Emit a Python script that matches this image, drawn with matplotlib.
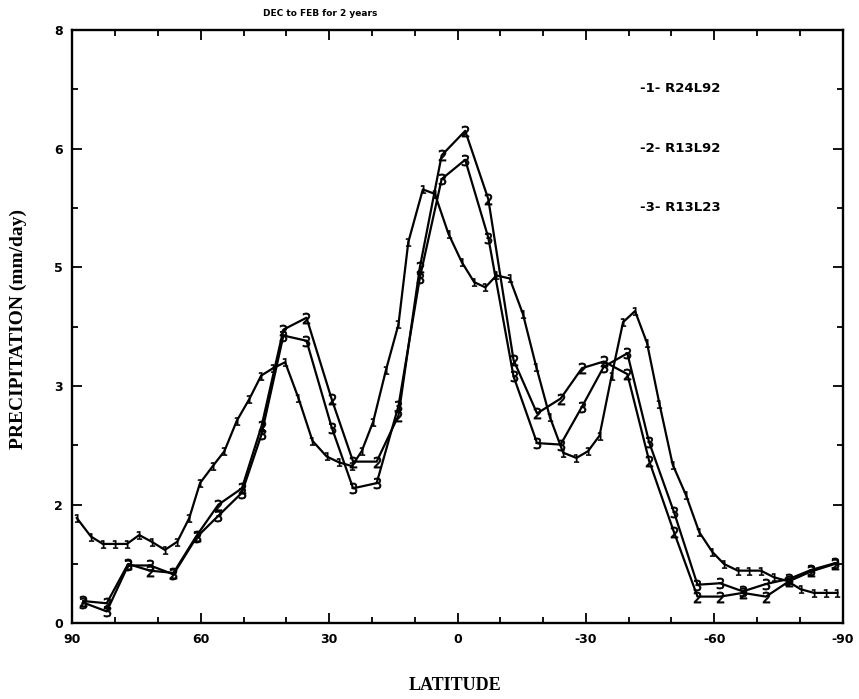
import matplotlib
matplotlib.use("Agg")
import matplotlib.pyplot as plt
from matplotlib.ticker import FixedLocator, MultipleLocator, FuncFormatter

# zonal mean precipitation (mm/day), DEC to FEB, 2-year mean
lat_r24 = [89.0, 85.7, 82.9, 80.1, 77.3, 74.4, 71.5, 68.4, 65.5, 62.7,
           60.2, 57.2, 54.5, 51.6, 48.7, 45.9, 43.1, 40.3, 37.2, 33.9,
           30.6, 27.7, 24.7, 22.4, 19.7, 16.7, 13.8, 11.5, 8.1, 5.3,
           2.1, -1.0, -3.9, -6.5, -9.1, -12.2, -15.3, -18.4, -21.6, -24.7,
           -27.8, -30.5, -33.2, -36.0, -38.7, -41.5, -44.3, -47.2, -50.3, -53.4,
           -56.5, -59.6, -62.3, -65.5, -68.2, -70.9, -74.0, -77.1, -80.2, -83.3,
           -86.1, -88.8]
precip_r24l92 = [1.42, 1.17, 1.07, 1.07, 1.07, 1.19, 1.10, 0.99, 1.10, 1.42,
                 1.89, 2.12, 2.32, 2.73, 3.02, 3.34, 3.44, 3.52, 3.04, 2.46,
                 2.25, 2.17, 2.12, 2.32, 2.72, 3.42, 4.03, 5.14, 5.85, 5.79,
                 5.25, 4.87, 4.60, 4.53, 4.69, 4.65, 4.17, 3.46, 2.78, 2.30,
                 2.23, 2.32, 2.53, 3.33, 4.06, 4.21, 3.78, 2.96, 2.14, 1.73,
                 1.23, 0.96, 0.80, 0.71, 0.71, 0.71, 0.62, 0.57, 0.46, 0.41,
                 0.41, 0.41]

lat_r13 = [87.5, 82.0, 77.0, 71.9, 66.4, 61.0, 55.9, 50.4, 45.8, 40.7,
           35.3, 29.4, 24.4, 18.9, 13.8, 8.8, 3.7, -1.8, -7.2, -13.1,
           -18.6, -24.1, -29.1, -34.2, -39.7, -44.8, -50.6, -56.1, -61.4, -66.7,
           -72.1, -77.6, -82.7, -88.2]
precip_r13l92 = [0.30, 0.27, 0.80, 0.71, 0.68, 1.18, 1.60, 1.82, 2.66, 3.96,
                 4.12, 3.02, 2.18, 2.18, 2.80, 4.80, 6.31, 6.64, 5.72, 3.55,
                 2.83, 3.03, 3.44, 3.53, 3.36, 2.19, 1.23, 0.36, 0.36, 0.41,
                 0.36, 0.57, 0.70, 0.80]
precip_r13l23 = [0.28, 0.16, 0.78, 0.78, 0.66, 1.16, 1.45, 1.76, 2.55, 3.88,
                 3.81, 2.64, 1.82, 1.89, 2.93, 4.66, 5.99, 6.25, 5.20, 3.33,
                 2.43, 2.41, 2.92, 3.46, 3.64, 2.44, 1.50, 0.52, 0.54, 0.43,
                 0.53, 0.60, 0.72, 0.81]

run_labels = ["-1- R24L92", "-2- R13L92", "-3- R13L23"]
x_ticks = [90, 60, 30, 0, -30, -60, -90]
y_ticks = [0.0, 1.6, 3.2, 4.8, 6.4, 8.0]

fig = plt.figure(figsize=(8.59, 6.99), dpi=100)
ax = fig.add_axes([0.0844, 0.1083, 0.8964, 0.8488])

ax.plot(lat_r24, precip_r24l92, color="black", lw=1.6,
        marker="$1$", ms=6, mew=0.4)
ax.plot(lat_r13, precip_r13l92, color="black", lw=1.6,
        marker="$2$", ms=8, mew=0.5)
ax.plot(lat_r13, precip_r13l23, color="black", lw=1.6,
        marker="$3$", ms=8, mew=0.5)

ax.set_xlim(90, -90)
ax.set_ylim(0, 8)
ax.xaxis.set_major_locator(FixedLocator(x_ticks))
ax.xaxis.set_minor_locator(MultipleLocator(10))
ax.yaxis.set_major_locator(FixedLocator(y_ticks))
ax.yaxis.set_minor_locator(MultipleLocator(0.8))
ax.yaxis.set_major_formatter(FuncFormatter(lambda v, p: f"{v:.0f}"))
ax.xaxis.set_major_formatter(FuncFormatter(lambda v, p: f"{v:.0f}"))

ax.tick_params(which="both", direction="in", top=True, right=True, width=1.3)
ax.tick_params(which="major", length=7, labelsize=9, pad=7)
ax.tick_params(which="minor", length=4.5)
for lbl in ax.get_xticklabels() + ax.get_yticklabels():
    lbl.set_fontweight("bold")
for sp in ax.spines.values():
    sp.set_linewidth(1.7)

# run names down the right-hand side
for i, name in enumerate(run_labels):
    fig.text(640 / 859, 1 - (88 + 60 * i) / 699, name, ha="left", va="center",
             fontsize=9.5, fontweight="bold")

fig.text(320 / 859, 1 - 13 / 699, "DEC to FEB for 2 years", ha="center",
         va="center", fontsize=6.5, fontweight="bold")
fig.text(18 / 859, 1 - 329 / 699, "PRECIPITATION (mm/day)", rotation=90,
         ha="center", va="center", family="Liberation Serif", fontsize=14,
         fontweight="bold")
fig.text(455 / 859, 1 - 686 / 699, "LATITUDE", ha="center", va="center",
         family="Liberation Serif", fontsize=13, fontweight="bold")

fig.savefig("out.png", dpi=100)
